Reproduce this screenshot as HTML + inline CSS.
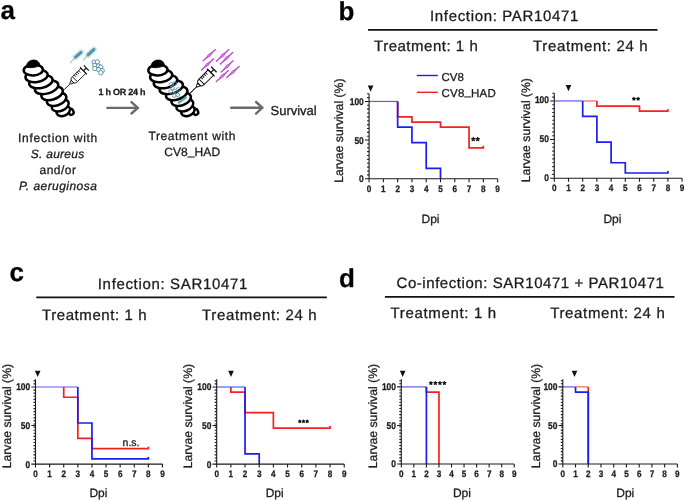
<!DOCTYPE html>
<html><head><meta charset="utf-8"><style>
html,body{margin:0;padding:0;background:#fff;}
svg{display:block;font-family:"Liberation Sans", sans-serif;text-rendering:geometricPrecision;will-change:transform;}
text{stroke:#1a1a1a;stroke-width:0.28px;}
</style></head><body>
<svg width="685" height="501" viewBox="0 0 685 501">
<rect width="685" height="501" fill="#fff"/>
<text x="0.5" y="19.3" font-size="26" font-weight="bold">a</text>
<text x="338.5" y="19.6" font-size="26" font-weight="bold">b</text>
<text x="9.5" y="280.6" font-size="26" font-weight="bold">c</text>
<text x="339" y="287" font-size="26" font-weight="bold">d</text>
<text x="430" y="20.9" font-size="15" fill="#1a1a1a" letter-spacing="0.66">Infection: PAR10471</text>
<path d="M368,29.8H657.5M36.3,297.3H326.9M384.9,296.8H674.5" stroke="#111" stroke-width="1.8"/>
<text x="374" y="51.4" font-size="15" fill="#1a1a1a" letter-spacing="0.52">Treatment: 1 h</text>
<text x="533" y="51.4" font-size="15" fill="#1a1a1a" letter-spacing="0.66">Treatment: 24 h</text>
<text x="97.8" y="288.9" font-size="15" fill="#1a1a1a" letter-spacing="0.66">Infection: SAR10471</text>
<text x="42" y="319.9" font-size="15" fill="#1a1a1a" letter-spacing="0.58">Treatment: 1 h</text>
<text x="202" y="319.9" font-size="15" fill="#1a1a1a" letter-spacing="0.66">Treatment: 24 h</text>
<text x="396.5" y="287.6" font-size="15" fill="#1a1a1a" letter-spacing="0.56">Co-infection: SAR10471 + PAR10471</text>
<text x="390.5" y="317.8" font-size="15" fill="#1a1a1a" letter-spacing="0.66">Treatment: 1 h</text>
<text x="550.2" y="317.8" font-size="15" fill="#1a1a1a" letter-spacing="0.66">Treatment: 24 h</text>
<text x="342.9" y="130.7" transform="rotate(-90 342.9 130.7)" text-anchor="middle" font-size="12.2" fill="#222">Larvae survival (%)</text>
<path d="M369.1,101.45H397.66" fill="none" stroke="#5a5af5" stroke-width="1.2"/>
<path d="M397.66,101.45H397.66V116.9H411.94V122.08H440.5V127.17H469.06V147.8H483.34V147.8v-2" fill="none" stroke="#f52020" stroke-width="1.7"/>
<path d="M397.66,101.45H397.66V127.17H411.94V142.62H426.22V168.43H440.5V178.7" fill="none" stroke="#1c1cf5" stroke-width="1.7"/>
<path d="M369.1,93.72V178.7H497.62M369.1,178.7v3.5M383.38,178.7v3.5M397.66,178.7v3.5M411.94,178.7v3.5M426.22,178.7v3.5M440.5,178.7v3.5M454.78,178.7v3.5M469.06,178.7v3.5M483.34,178.7v3.5M497.62,178.7v3.5M369.1,178.7h-4.2M369.1,140.07h-4.2M369.1,101.45h-4.2M369.1,174.84h-2M369.1,170.97h-2M369.1,167.11h-2M369.1,163.25h-2M369.1,159.39h-2M369.1,155.52h-2M369.1,151.66h-2M369.1,147.8h-2M369.1,143.94h-2M369.1,136.21h-2M369.1,132.35h-2M369.1,128.49h-2M369.1,124.62h-2M369.1,120.76h-2M369.1,116.9h-2M369.1,113.04h-2M369.1,109.17h-2M369.1,105.31h-2M369.1,97.59h-2M369.1,93.72h-2" fill="none" stroke="#1a1a1a" stroke-width="1.1"/>
<text transform="translate(369.1,192) scale(0.87,1)" text-anchor="middle" font-size="9.4" font-weight="bold" fill="#222" stroke="#222" stroke-width="0.3">0</text>
<text transform="translate(383.38,192) scale(0.87,1)" text-anchor="middle" font-size="9.4" font-weight="bold" fill="#222" stroke="#222" stroke-width="0.3">1</text>
<text transform="translate(397.66,192) scale(0.87,1)" text-anchor="middle" font-size="9.4" font-weight="bold" fill="#222" stroke="#222" stroke-width="0.3">2</text>
<text transform="translate(411.94,192) scale(0.87,1)" text-anchor="middle" font-size="9.4" font-weight="bold" fill="#222" stroke="#222" stroke-width="0.3">3</text>
<text transform="translate(426.22,192) scale(0.87,1)" text-anchor="middle" font-size="9.4" font-weight="bold" fill="#222" stroke="#222" stroke-width="0.3">4</text>
<text transform="translate(440.5,192) scale(0.87,1)" text-anchor="middle" font-size="9.4" font-weight="bold" fill="#222" stroke="#222" stroke-width="0.3">5</text>
<text transform="translate(454.78,192) scale(0.87,1)" text-anchor="middle" font-size="9.4" font-weight="bold" fill="#222" stroke="#222" stroke-width="0.3">6</text>
<text transform="translate(469.06,192) scale(0.87,1)" text-anchor="middle" font-size="9.4" font-weight="bold" fill="#222" stroke="#222" stroke-width="0.3">7</text>
<text transform="translate(483.34,192) scale(0.87,1)" text-anchor="middle" font-size="9.4" font-weight="bold" fill="#222" stroke="#222" stroke-width="0.3">8</text>
<text transform="translate(497.62,192) scale(0.87,1)" text-anchor="middle" font-size="9.4" font-weight="bold" fill="#222" stroke="#222" stroke-width="0.3">9</text>
<text transform="translate(363.8,182.15) scale(0.86,1)" text-anchor="end" font-size="9.8" font-weight="bold" fill="#222" stroke="#222" stroke-width="0.3">0</text>
<text transform="translate(363.8,143.52) scale(0.86,1)" text-anchor="end" font-size="9.8" font-weight="bold" fill="#222" stroke="#222" stroke-width="0.3">50</text>
<text transform="translate(363.8,104.9) scale(0.86,1)" text-anchor="end" font-size="9.8" font-weight="bold" fill="#222" stroke="#222" stroke-width="0.3">100</text>
<path d="M367.8,85.4h5.6l-2.8,6.3z" fill="#111"/>
<text x="430.5" y="222.7" text-anchor="middle" font-size="12" fill="#222">Dpi</text>
<path d="M473.3,139.2L473.3,137.45M473.3,139.2L474.96,138.66M473.3,139.2L474.33,140.62M473.3,139.2L472.27,140.62M473.3,139.2L471.64,138.66M477.7,139.2L477.7,137.45M477.7,139.2L479.36,138.66M477.7,139.2L478.73,140.62M477.7,139.2L476.67,140.62M477.7,139.2L476.04,138.66" stroke="#111" stroke-width="1.25" stroke-linecap="round" fill="none"/>
<text x="529.7" y="130.2" transform="rotate(-90 529.7 130.2)" text-anchor="middle" font-size="12.2" fill="#222">Larvae survival (%)</text>
<path d="M582.7,100.95H596.9" fill="none" stroke="#f56060" stroke-width="1.2"/>
<path d="M554.3,100.95H582.7" fill="none" stroke="#5a5af5" stroke-width="1.2"/>
<path d="M596.9,100.95H596.9V106.13H639.5V111.22H667.9V111.22v-2" fill="none" stroke="#f52020" stroke-width="1.7"/>
<path d="M582.7,100.95H582.7V116.4H596.9V142.12H611.1V162.75H625.3V173.02H667.9V173.02v-2" fill="none" stroke="#1c1cf5" stroke-width="1.7"/>
<path d="M554.3,93.22V178.2H682.1M554.3,178.2v3.5M568.5,178.2v3.5M582.7,178.2v3.5M596.9,178.2v3.5M611.1,178.2v3.5M625.3,178.2v3.5M639.5,178.2v3.5M653.7,178.2v3.5M667.9,178.2v3.5M682.1,178.2v3.5M554.3,178.2h-4.2M554.3,139.57h-4.2M554.3,100.95h-4.2M554.3,174.34h-2M554.3,170.47h-2M554.3,166.61h-2M554.3,162.75h-2M554.3,158.89h-2M554.3,155.02h-2M554.3,151.16h-2M554.3,147.3h-2M554.3,143.44h-2M554.3,135.71h-2M554.3,131.85h-2M554.3,127.99h-2M554.3,124.12h-2M554.3,120.26h-2M554.3,116.4h-2M554.3,112.54h-2M554.3,108.67h-2M554.3,104.81h-2M554.3,97.09h-2M554.3,93.22h-2" fill="none" stroke="#1a1a1a" stroke-width="1.1"/>
<text transform="translate(554.3,190.5) scale(0.87,1)" text-anchor="middle" font-size="9.4" font-weight="bold" fill="#222" stroke="#222" stroke-width="0.3">0</text>
<text transform="translate(568.5,190.5) scale(0.87,1)" text-anchor="middle" font-size="9.4" font-weight="bold" fill="#222" stroke="#222" stroke-width="0.3">1</text>
<text transform="translate(582.7,190.5) scale(0.87,1)" text-anchor="middle" font-size="9.4" font-weight="bold" fill="#222" stroke="#222" stroke-width="0.3">2</text>
<text transform="translate(596.9,190.5) scale(0.87,1)" text-anchor="middle" font-size="9.4" font-weight="bold" fill="#222" stroke="#222" stroke-width="0.3">3</text>
<text transform="translate(611.1,190.5) scale(0.87,1)" text-anchor="middle" font-size="9.4" font-weight="bold" fill="#222" stroke="#222" stroke-width="0.3">4</text>
<text transform="translate(625.3,190.5) scale(0.87,1)" text-anchor="middle" font-size="9.4" font-weight="bold" fill="#222" stroke="#222" stroke-width="0.3">5</text>
<text transform="translate(639.5,190.5) scale(0.87,1)" text-anchor="middle" font-size="9.4" font-weight="bold" fill="#222" stroke="#222" stroke-width="0.3">6</text>
<text transform="translate(653.7,190.5) scale(0.87,1)" text-anchor="middle" font-size="9.4" font-weight="bold" fill="#222" stroke="#222" stroke-width="0.3">7</text>
<text transform="translate(667.9,190.5) scale(0.87,1)" text-anchor="middle" font-size="9.4" font-weight="bold" fill="#222" stroke="#222" stroke-width="0.3">8</text>
<text transform="translate(682.1,190.5) scale(0.87,1)" text-anchor="middle" font-size="9.4" font-weight="bold" fill="#222" stroke="#222" stroke-width="0.3">9</text>
<text transform="translate(549,180.65) scale(0.86,1)" text-anchor="end" font-size="9.8" font-weight="bold" fill="#222" stroke="#222" stroke-width="0.3">0</text>
<text transform="translate(549,142.02) scale(0.86,1)" text-anchor="end" font-size="9.8" font-weight="bold" fill="#222" stroke="#222" stroke-width="0.3">50</text>
<text transform="translate(549,103.4) scale(0.86,1)" text-anchor="end" font-size="9.8" font-weight="bold" fill="#222" stroke="#222" stroke-width="0.3">100</text>
<path d="M565.66,84.9h5.6l-2.8,6.3z" fill="#111"/>
<text x="612.4" y="222.7" text-anchor="middle" font-size="12" fill="#222">Dpi</text>
<path d="M633.9,98.8L633.9,97.35M633.9,98.8L635.28,98.35M633.9,98.8L634.75,99.97M633.9,98.8L633.05,99.97M633.9,98.8L632.52,98.35M638.1,98.8L638.1,97.35M638.1,98.8L639.48,98.35M638.1,98.8L638.95,99.97M638.1,98.8L637.25,99.97M638.1,98.8L636.72,98.35" stroke="#111" stroke-width="1.25" stroke-linecap="round" fill="none"/>
<text x="10.9" y="416.1" transform="rotate(-90 10.9 416.1)" text-anchor="middle" font-size="12.2" fill="#222">Larvae survival (%)</text>
<path d="M35.5,387H77.83" fill="none" stroke="#5a5af5" stroke-width="1.2"/>
<path d="M63.72,387H63.72V397.25H77.83V438.43H91.94V448.68H148.38V448.68v-2" fill="none" stroke="#f52020" stroke-width="1.7"/>
<path d="M77.83,387H77.83V423.01H91.94V458.93H148.38V458.93v-2" fill="none" stroke="#1c1cf5" stroke-width="1.7"/>
<path d="M35.5,379.29V464.1H162.49M35.5,464.1v3.5M49.61,464.1v3.5M63.72,464.1v3.5M77.83,464.1v3.5M91.94,464.1v3.5M106.05,464.1v3.5M120.16,464.1v3.5M134.27,464.1v3.5M148.38,464.1v3.5M162.49,464.1v3.5M35.5,464.1h-4.2M35.5,425.55h-4.2M35.5,387h-4.2M35.5,461.02h-2M35.5,457.93h-2M35.5,454.85h-2M35.5,451.76h-2M35.5,448.68h-2M35.5,445.6h-2M35.5,442.51h-2M35.5,439.43h-2M35.5,436.34h-2M35.5,433.26h-2M35.5,430.18h-2M35.5,427.09h-2M35.5,424.01h-2M35.5,420.92h-2M35.5,417.84h-2M35.5,414.76h-2M35.5,411.67h-2M35.5,408.59h-2M35.5,405.5h-2M35.5,402.42h-2M35.5,399.34h-2M35.5,396.25h-2M35.5,393.17h-2M35.5,390.08h-2M35.5,383.92h-2M35.5,380.83h-2" fill="none" stroke="#1a1a1a" stroke-width="1.1"/>
<text transform="translate(35.5,477.4) scale(0.87,1)" text-anchor="middle" font-size="9.4" font-weight="bold" fill="#222" stroke="#222" stroke-width="0.3">0</text>
<text transform="translate(49.61,477.4) scale(0.87,1)" text-anchor="middle" font-size="9.4" font-weight="bold" fill="#222" stroke="#222" stroke-width="0.3">1</text>
<text transform="translate(63.72,477.4) scale(0.87,1)" text-anchor="middle" font-size="9.4" font-weight="bold" fill="#222" stroke="#222" stroke-width="0.3">2</text>
<text transform="translate(77.83,477.4) scale(0.87,1)" text-anchor="middle" font-size="9.4" font-weight="bold" fill="#222" stroke="#222" stroke-width="0.3">3</text>
<text transform="translate(91.94,477.4) scale(0.87,1)" text-anchor="middle" font-size="9.4" font-weight="bold" fill="#222" stroke="#222" stroke-width="0.3">4</text>
<text transform="translate(106.05,477.4) scale(0.87,1)" text-anchor="middle" font-size="9.4" font-weight="bold" fill="#222" stroke="#222" stroke-width="0.3">5</text>
<text transform="translate(120.16,477.4) scale(0.87,1)" text-anchor="middle" font-size="9.4" font-weight="bold" fill="#222" stroke="#222" stroke-width="0.3">6</text>
<text transform="translate(134.27,477.4) scale(0.87,1)" text-anchor="middle" font-size="9.4" font-weight="bold" fill="#222" stroke="#222" stroke-width="0.3">7</text>
<text transform="translate(148.38,477.4) scale(0.87,1)" text-anchor="middle" font-size="9.4" font-weight="bold" fill="#222" stroke="#222" stroke-width="0.3">8</text>
<text transform="translate(162.49,477.4) scale(0.87,1)" text-anchor="middle" font-size="9.4" font-weight="bold" fill="#222" stroke="#222" stroke-width="0.3">9</text>
<text transform="translate(30.2,467.55) scale(0.86,1)" text-anchor="end" font-size="9.8" font-weight="bold" fill="#222" stroke="#222" stroke-width="0.3">0</text>
<text transform="translate(30.2,429) scale(0.86,1)" text-anchor="end" font-size="9.8" font-weight="bold" fill="#222" stroke="#222" stroke-width="0.3">50</text>
<text transform="translate(30.2,390.45) scale(0.86,1)" text-anchor="end" font-size="9.8" font-weight="bold" fill="#222" stroke="#222" stroke-width="0.3">100</text>
<path d="M34.9,370.8h5.6l-2.8,6.3z" fill="#111"/>
<text x="98.4" y="497.2" text-anchor="middle" font-size="12" fill="#222">Dpi</text>
<text x="122.6" y="445.6" font-size="10.5" fill="#1a1a1a" stroke="#1a1a1a" stroke-width="0.3">n.s.</text>
<text x="192.1" y="416.1" transform="rotate(-90 192.1 416.1)" text-anchor="middle" font-size="12.2" fill="#222">Larvae survival (%)</text>
<path d="M216.7,387H245.04" fill="none" stroke="#5a5af5" stroke-width="1.2"/>
<path d="M230.87,387H230.87V392.17H245.04V412.67H273.38V428.09H330.06V428.09v-2" fill="none" stroke="#f52020" stroke-width="1.7"/>
<path d="M245.04,387H245.04V453.85H259.21V464.1" fill="none" stroke="#1c1cf5" stroke-width="1.7"/>
<path d="M216.7,379.29V464.1H344.23M216.7,464.1v3.5M230.87,464.1v3.5M245.04,464.1v3.5M259.21,464.1v3.5M273.38,464.1v3.5M287.55,464.1v3.5M301.72,464.1v3.5M315.89,464.1v3.5M330.06,464.1v3.5M344.23,464.1v3.5M216.7,464.1h-4.2M216.7,425.55h-4.2M216.7,387h-4.2M216.7,461.02h-2M216.7,457.93h-2M216.7,454.85h-2M216.7,451.76h-2M216.7,448.68h-2M216.7,445.6h-2M216.7,442.51h-2M216.7,439.43h-2M216.7,436.34h-2M216.7,433.26h-2M216.7,430.18h-2M216.7,427.09h-2M216.7,424.01h-2M216.7,420.92h-2M216.7,417.84h-2M216.7,414.76h-2M216.7,411.67h-2M216.7,408.59h-2M216.7,405.5h-2M216.7,402.42h-2M216.7,399.34h-2M216.7,396.25h-2M216.7,393.17h-2M216.7,390.08h-2M216.7,383.92h-2M216.7,380.83h-2" fill="none" stroke="#1a1a1a" stroke-width="1.1"/>
<text transform="translate(216.7,477.4) scale(0.87,1)" text-anchor="middle" font-size="9.4" font-weight="bold" fill="#222" stroke="#222" stroke-width="0.3">0</text>
<text transform="translate(230.87,477.4) scale(0.87,1)" text-anchor="middle" font-size="9.4" font-weight="bold" fill="#222" stroke="#222" stroke-width="0.3">1</text>
<text transform="translate(245.04,477.4) scale(0.87,1)" text-anchor="middle" font-size="9.4" font-weight="bold" fill="#222" stroke="#222" stroke-width="0.3">2</text>
<text transform="translate(259.21,477.4) scale(0.87,1)" text-anchor="middle" font-size="9.4" font-weight="bold" fill="#222" stroke="#222" stroke-width="0.3">3</text>
<text transform="translate(273.38,477.4) scale(0.87,1)" text-anchor="middle" font-size="9.4" font-weight="bold" fill="#222" stroke="#222" stroke-width="0.3">4</text>
<text transform="translate(287.55,477.4) scale(0.87,1)" text-anchor="middle" font-size="9.4" font-weight="bold" fill="#222" stroke="#222" stroke-width="0.3">5</text>
<text transform="translate(301.72,477.4) scale(0.87,1)" text-anchor="middle" font-size="9.4" font-weight="bold" fill="#222" stroke="#222" stroke-width="0.3">6</text>
<text transform="translate(315.89,477.4) scale(0.87,1)" text-anchor="middle" font-size="9.4" font-weight="bold" fill="#222" stroke="#222" stroke-width="0.3">7</text>
<text transform="translate(330.06,477.4) scale(0.87,1)" text-anchor="middle" font-size="9.4" font-weight="bold" fill="#222" stroke="#222" stroke-width="0.3">8</text>
<text transform="translate(344.23,477.4) scale(0.87,1)" text-anchor="middle" font-size="9.4" font-weight="bold" fill="#222" stroke="#222" stroke-width="0.3">9</text>
<text transform="translate(211.4,467.55) scale(0.86,1)" text-anchor="end" font-size="9.8" font-weight="bold" fill="#222" stroke="#222" stroke-width="0.3">0</text>
<text transform="translate(211.4,429) scale(0.86,1)" text-anchor="end" font-size="9.8" font-weight="bold" fill="#222" stroke="#222" stroke-width="0.3">50</text>
<text transform="translate(211.4,390.45) scale(0.86,1)" text-anchor="end" font-size="9.8" font-weight="bold" fill="#222" stroke="#222" stroke-width="0.3">100</text>
<path d="M228.21,370.8h5.6l-2.8,6.3z" fill="#111"/>
<text x="274.7" y="497.2" text-anchor="middle" font-size="12" fill="#222">Dpi</text>
<path d="M299.8,421.4L299.8,420.15M299.8,421.4L300.99,421.01M299.8,421.4L300.53,422.41M299.8,421.4L299.07,422.41M299.8,421.4L298.61,421.01M303.5,421.4L303.5,420.15M303.5,421.4L304.69,421.01M303.5,421.4L304.23,422.41M303.5,421.4L302.77,422.41M303.5,421.4L302.31,421.01M307.2,421.4L307.2,420.15M307.2,421.4L308.39,421.01M307.2,421.4L307.93,422.41M307.2,421.4L306.47,422.41M307.2,421.4L306.01,421.01" stroke="#111" stroke-width="1.25" stroke-linecap="round" fill="none"/>
<text x="377.4" y="416" transform="rotate(-90 377.4 416)" text-anchor="middle" font-size="12.2" fill="#222">Larvae survival (%)</text>
<path d="M401.3,386.9H426.4" fill="none" stroke="#5a5af5" stroke-width="1.2"/>
<path d="M426.4,386.9H426.4V392.07H438.95V464" fill="none" stroke="#f52020" stroke-width="1.7"/>
<path d="M426.4,386.9H426.4V464" fill="none" stroke="#1c1cf5" stroke-width="1.7"/>
<path d="M401.3,379.19V464H514.25M401.3,464v3.5M413.85,464v3.5M426.4,464v3.5M438.95,464v3.5M451.5,464v3.5M464.05,464v3.5M476.6,464v3.5M489.15,464v3.5M501.7,464v3.5M514.25,464v3.5M401.3,464h-4.2M401.3,425.45h-4.2M401.3,386.9h-4.2M401.3,460.92h-2M401.3,457.83h-2M401.3,454.75h-2M401.3,451.66h-2M401.3,448.58h-2M401.3,445.5h-2M401.3,442.41h-2M401.3,439.33h-2M401.3,436.24h-2M401.3,433.16h-2M401.3,430.08h-2M401.3,426.99h-2M401.3,423.91h-2M401.3,420.82h-2M401.3,417.74h-2M401.3,414.66h-2M401.3,411.57h-2M401.3,408.49h-2M401.3,405.4h-2M401.3,402.32h-2M401.3,399.24h-2M401.3,396.15h-2M401.3,393.07h-2M401.3,389.98h-2M401.3,383.82h-2M401.3,380.73h-2" fill="none" stroke="#1a1a1a" stroke-width="1.1"/>
<text transform="translate(401.3,477.3) scale(0.87,1)" text-anchor="middle" font-size="9.4" font-weight="bold" fill="#222" stroke="#222" stroke-width="0.3">0</text>
<text transform="translate(413.85,477.3) scale(0.87,1)" text-anchor="middle" font-size="9.4" font-weight="bold" fill="#222" stroke="#222" stroke-width="0.3">1</text>
<text transform="translate(426.4,477.3) scale(0.87,1)" text-anchor="middle" font-size="9.4" font-weight="bold" fill="#222" stroke="#222" stroke-width="0.3">2</text>
<text transform="translate(438.95,477.3) scale(0.87,1)" text-anchor="middle" font-size="9.4" font-weight="bold" fill="#222" stroke="#222" stroke-width="0.3">3</text>
<text transform="translate(451.5,477.3) scale(0.87,1)" text-anchor="middle" font-size="9.4" font-weight="bold" fill="#222" stroke="#222" stroke-width="0.3">4</text>
<text transform="translate(464.05,477.3) scale(0.87,1)" text-anchor="middle" font-size="9.4" font-weight="bold" fill="#222" stroke="#222" stroke-width="0.3">5</text>
<text transform="translate(476.6,477.3) scale(0.87,1)" text-anchor="middle" font-size="9.4" font-weight="bold" fill="#222" stroke="#222" stroke-width="0.3">6</text>
<text transform="translate(489.15,477.3) scale(0.87,1)" text-anchor="middle" font-size="9.4" font-weight="bold" fill="#222" stroke="#222" stroke-width="0.3">7</text>
<text transform="translate(501.7,477.3) scale(0.87,1)" text-anchor="middle" font-size="9.4" font-weight="bold" fill="#222" stroke="#222" stroke-width="0.3">8</text>
<text transform="translate(514.25,477.3) scale(0.87,1)" text-anchor="middle" font-size="9.4" font-weight="bold" fill="#222" stroke="#222" stroke-width="0.3">9</text>
<text transform="translate(396,467.45) scale(0.86,1)" text-anchor="end" font-size="9.8" font-weight="bold" fill="#222" stroke="#222" stroke-width="0.3">0</text>
<text transform="translate(396,428.9) scale(0.86,1)" text-anchor="end" font-size="9.8" font-weight="bold" fill="#222" stroke="#222" stroke-width="0.3">50</text>
<text transform="translate(396,390.35) scale(0.86,1)" text-anchor="end" font-size="9.8" font-weight="bold" fill="#222" stroke="#222" stroke-width="0.3">100</text>
<path d="M399.88,370.7h5.6l-2.8,6.3z" fill="#111"/>
<text x="461.9" y="497.2" text-anchor="middle" font-size="12" fill="#222">Dpi</text>
<path d="M430.9,383.1L430.9,381.6M430.9,383.1L432.33,382.64M430.9,383.1L431.78,384.31M430.9,383.1L430.02,384.31M430.9,383.1L429.47,382.64M435.4,383.1L435.4,381.6M435.4,383.1L436.83,382.64M435.4,383.1L436.28,384.31M435.4,383.1L434.52,384.31M435.4,383.1L433.97,382.64M439.9,383.1L439.9,381.6M439.9,383.1L441.33,382.64M439.9,383.1L440.78,384.31M439.9,383.1L439.02,384.31M439.9,383.1L438.47,382.64M444.4,383.1L444.4,381.6M444.4,383.1L445.83,382.64M444.4,383.1L445.28,384.31M444.4,383.1L443.52,384.31M444.4,383.1L442.97,382.64" stroke="#111" stroke-width="1.25" stroke-linecap="round" fill="none"/>
<text x="540" y="416" transform="rotate(-90 540 416)" text-anchor="middle" font-size="12.2" fill="#222">Larvae survival (%)</text>
<path d="M575.53,386.9H588.26" fill="none" stroke="#f56060" stroke-width="1.2"/>
<path d="M562.8,386.9H575.53" fill="none" stroke="#5a5af5" stroke-width="1.2"/>
<path d="M588.26,386.9H588.26V464" fill="none" stroke="#f52020" stroke-width="1.7"/>
<path d="M575.53,386.9H575.53V392.07H588.26V464" fill="none" stroke="#1c1cf5" stroke-width="1.7"/>
<path d="M562.8,379.19V464H677.37M562.8,464v3.5M575.53,464v3.5M588.26,464v3.5M600.99,464v3.5M613.72,464v3.5M626.45,464v3.5M639.18,464v3.5M651.91,464v3.5M664.64,464v3.5M677.37,464v3.5M562.8,464h-4.2M562.8,425.45h-4.2M562.8,386.9h-4.2M562.8,460.92h-2M562.8,457.83h-2M562.8,454.75h-2M562.8,451.66h-2M562.8,448.58h-2M562.8,445.5h-2M562.8,442.41h-2M562.8,439.33h-2M562.8,436.24h-2M562.8,433.16h-2M562.8,430.08h-2M562.8,426.99h-2M562.8,423.91h-2M562.8,420.82h-2M562.8,417.74h-2M562.8,414.66h-2M562.8,411.57h-2M562.8,408.49h-2M562.8,405.4h-2M562.8,402.32h-2M562.8,399.24h-2M562.8,396.15h-2M562.8,393.07h-2M562.8,389.98h-2M562.8,383.82h-2M562.8,380.73h-2" fill="none" stroke="#1a1a1a" stroke-width="1.1"/>
<text transform="translate(562.8,477.3) scale(0.87,1)" text-anchor="middle" font-size="9.4" font-weight="bold" fill="#222" stroke="#222" stroke-width="0.3">0</text>
<text transform="translate(575.53,477.3) scale(0.87,1)" text-anchor="middle" font-size="9.4" font-weight="bold" fill="#222" stroke="#222" stroke-width="0.3">1</text>
<text transform="translate(588.26,477.3) scale(0.87,1)" text-anchor="middle" font-size="9.4" font-weight="bold" fill="#222" stroke="#222" stroke-width="0.3">2</text>
<text transform="translate(600.99,477.3) scale(0.87,1)" text-anchor="middle" font-size="9.4" font-weight="bold" fill="#222" stroke="#222" stroke-width="0.3">3</text>
<text transform="translate(613.72,477.3) scale(0.87,1)" text-anchor="middle" font-size="9.4" font-weight="bold" fill="#222" stroke="#222" stroke-width="0.3">4</text>
<text transform="translate(626.45,477.3) scale(0.87,1)" text-anchor="middle" font-size="9.4" font-weight="bold" fill="#222" stroke="#222" stroke-width="0.3">5</text>
<text transform="translate(639.18,477.3) scale(0.87,1)" text-anchor="middle" font-size="9.4" font-weight="bold" fill="#222" stroke="#222" stroke-width="0.3">6</text>
<text transform="translate(651.91,477.3) scale(0.87,1)" text-anchor="middle" font-size="9.4" font-weight="bold" fill="#222" stroke="#222" stroke-width="0.3">7</text>
<text transform="translate(664.64,477.3) scale(0.87,1)" text-anchor="middle" font-size="9.4" font-weight="bold" fill="#222" stroke="#222" stroke-width="0.3">8</text>
<text transform="translate(677.37,477.3) scale(0.87,1)" text-anchor="middle" font-size="9.4" font-weight="bold" fill="#222" stroke="#222" stroke-width="0.3">9</text>
<text transform="translate(557.5,467.45) scale(0.86,1)" text-anchor="end" font-size="9.8" font-weight="bold" fill="#222" stroke="#222" stroke-width="0.3">0</text>
<text transform="translate(557.5,428.9) scale(0.86,1)" text-anchor="end" font-size="9.8" font-weight="bold" fill="#222" stroke="#222" stroke-width="0.3">50</text>
<text transform="translate(557.5,390.35) scale(0.86,1)" text-anchor="end" font-size="9.8" font-weight="bold" fill="#222" stroke="#222" stroke-width="0.3">100</text>
<path d="M571.71,370.7h5.6l-2.8,6.3z" fill="#111"/>
<text x="625.3" y="497.2" text-anchor="middle" font-size="12" fill="#222">Dpi</text>
<path d="M416.8,75.5H437.9" stroke="#1c1cf5" stroke-width="1.4"/>
<path d="M416.8,92.3H437.9" stroke="#f52020" stroke-width="1.4"/>
<text x="441.5" y="80.5" font-size="11.5" fill="#222">CV8</text>
<text x="441.5" y="96.9" font-size="11.5" fill="#222" letter-spacing="0.2">CV8<tspan dy="-1.6">_</tspan><tspan dy="1.6">HAD</tspan></text>
<text x="58" y="141.6" font-size="12" fill="#1a1a1a" text-anchor="middle" letter-spacing="0.7">Infection with</text>
<text x="57.6" y="157.9" font-size="12" fill="#1a1a1a" text-anchor="middle" font-style="italic" letter-spacing="0.25">S. aureus</text>
<text x="58" y="173.5" font-size="12" fill="#1a1a1a" text-anchor="middle" letter-spacing="0.5">and/or</text>
<text x="58.1" y="189.9" font-size="12" fill="#1a1a1a" text-anchor="middle" font-style="italic" letter-spacing="0.45">P. aeruginosa</text>
<text x="192.2" y="140" font-size="12" fill="#1a1a1a" text-anchor="middle" letter-spacing="0.62">Treatment with</text>
<text x="192.2" y="156.2" font-size="12" fill="#1a1a1a" text-anchor="middle" letter-spacing="0.1">CV8<tspan dy="-1.6">_</tspan><tspan dy="1.6">HAD</tspan></text>
<text x="270.5" y="114.9" font-size="13" fill="#1a1a1a">Survival</text>
<text x="121.9" y="95.1" font-size="9" font-weight="bold" fill="#222" text-anchor="middle" letter-spacing="-0.25">1 h OR 24 h</text>
<path d="M107.4,107.9H138M131.5,102.1L137.8,107.9L131.5,113.5M231.2,107.7H262.5M256.1,102L262.3,107.7L256.1,113.6" fill="none" stroke="#6b6b6b" stroke-width="2.4" stroke-linecap="round" stroke-linejoin="round"/>
<g transform="translate(0,0)"><ellipse cx="70.9" cy="111.9" rx="2.6" ry="3.0" transform="rotate(-30 70.9 111.9)" fill="#fff" stroke="#000" stroke-width="2.4"/><ellipse cx="63.3" cy="110.9" rx="7.0" ry="4.9" transform="rotate(-24 63.3 110.9)" fill="#fff" stroke="#000" stroke-width="2.5"/><ellipse cx="60.2" cy="105.3" rx="8.9" ry="5.6" transform="rotate(-22 60.2 105.3)" fill="#fff" stroke="#000" stroke-width="2.5"/><ellipse cx="56.6" cy="99.4" rx="10.1" ry="6.0" transform="rotate(-20 56.6 99.4)" fill="#fff" stroke="#000" stroke-width="2.5"/><ellipse cx="52.1" cy="93.4" rx="11.1" ry="6.2" transform="rotate(-18 52.1 93.4)" fill="#fff" stroke="#000" stroke-width="2.5"/><ellipse cx="46.6" cy="87.3" rx="12.0" ry="6.3" transform="rotate(-15 46.6 87.3)" fill="#fff" stroke="#000" stroke-width="2.5"/><ellipse cx="40.9" cy="81.7" rx="11.9" ry="6.3" transform="rotate(-12 40.9 81.7)" fill="#fff" stroke="#000" stroke-width="2.5"/><ellipse cx="36.6" cy="76.0" rx="11.2" ry="6.0" transform="rotate(-9 36.6 76.0)" fill="#fff" stroke="#000" stroke-width="2.5"/><ellipse cx="33.3" cy="70.0" rx="9.6" ry="5.4" transform="rotate(-3 33.3 70.0)" fill="#fff" stroke="#000" stroke-width="2.5"/><path d="M26.6,67.2 C25.6,58.8 39.5,57.2 39.8,65.6 C35.5,67.8 30.5,68.2 26.6,67.2Z" fill="#000" stroke="#000" stroke-width="0.8"/></g>
<g transform="translate(124.6,0)"><ellipse cx="70.9" cy="111.9" rx="2.6" ry="3.0" transform="rotate(-30 70.9 111.9)" fill="#fff" stroke="#000" stroke-width="2.4"/><ellipse cx="63.3" cy="110.9" rx="7.0" ry="4.9" transform="rotate(-24 63.3 110.9)" fill="#fff" stroke="#000" stroke-width="2.5"/><ellipse cx="60.2" cy="105.3" rx="8.9" ry="5.6" transform="rotate(-22 60.2 105.3)" fill="#fff" stroke="#000" stroke-width="2.5"/><ellipse cx="56.6" cy="99.4" rx="10.1" ry="6.0" transform="rotate(-20 56.6 99.4)" fill="#fff" stroke="#000" stroke-width="2.5"/><ellipse cx="52.1" cy="93.4" rx="11.1" ry="6.2" transform="rotate(-18 52.1 93.4)" fill="#fff" stroke="#000" stroke-width="2.5"/><ellipse cx="46.6" cy="87.3" rx="12.0" ry="6.3" transform="rotate(-15 46.6 87.3)" fill="#fff" stroke="#000" stroke-width="2.5"/><ellipse cx="40.9" cy="81.7" rx="11.9" ry="6.3" transform="rotate(-12 40.9 81.7)" fill="#fff" stroke="#000" stroke-width="2.5"/><ellipse cx="36.6" cy="76.0" rx="11.2" ry="6.0" transform="rotate(-9 36.6 76.0)" fill="#fff" stroke="#000" stroke-width="2.5"/><ellipse cx="33.3" cy="70.0" rx="9.6" ry="5.4" transform="rotate(-3 33.3 70.0)" fill="#fff" stroke="#000" stroke-width="2.5"/><g fill="none" stroke="#5b97ac" stroke-width="0.85"><circle cx="46.5" cy="84.5" r="1.9"/><circle cx="50" cy="83.5" r="1.9"/><circle cx="48" cy="88" r="1.9"/><circle cx="46" cy="91.5" r="1.9"/><circle cx="49.8" cy="91" r="1.9"/><circle cx="53.5" cy="89.5" r="1.9"/><circle cx="49.5" cy="95.5" r="1.9"/><circle cx="53.2" cy="95" r="1.9"/></g><path d="M54.2,102.6L61.2,97.6" stroke="#6aa3b6" stroke-width="2.4" stroke-linecap="round"/><path d="M26.6,67.2 C25.6,58.8 39.5,57.2 39.8,65.6 C35.5,67.8 30.5,68.2 26.6,67.2Z" fill="#000" stroke="#000" stroke-width="0.8"/></g>
<g transform="translate(64.2,89.7) rotate(-44.5) scale(1.0)" fill="none" stroke="#111" stroke-width="0.9" stroke-linejoin="round"><path d="M0,0H8.6"/><path d="M8.6,-0.6L11.6,-1.8V1.8L8.6,0.6Z"/><path d="M11.6,-1.9C12.4,-3.5 14,-3.5 15,-3.5H27V3.5H15C14,3.5 12.4,3.5 11.6,1.9Z"/><path d="M15,-3.5V3.5"/><path d="M17.5,-3.5V-1M19.5,-3.5V-1M21.5,-3.5V-1M23.5,-3.5V-1"/><path d="M27,-5V5M27,0H31M31,-3.6V3.6" stroke-width="1.15"/></g>
<g transform="translate(190.2,93.2) rotate(-45) scale(1.08)" fill="none" stroke="#111" stroke-width="0.9" stroke-linejoin="round"><path d="M0,0H8.6"/><path d="M8.6,-0.6L11.6,-1.8V1.8L8.6,0.6Z"/><path d="M11.6,-1.9C12.4,-3.5 14,-3.5 15,-3.5H27V3.5H15C14,3.5 12.4,3.5 11.6,1.9Z"/><path d="M15,-3.5V3.5"/><path d="M17.5,-3.5V-1M19.5,-3.5V-1M21.5,-3.5V-1M23.5,-3.5V-1"/><path d="M27,-5V5M27,0H31M31,-3.6V3.6" stroke-width="1.15"/></g>
<path d="M75.6,57.2L81,52.3" stroke="#dcebf0" stroke-width="6.5" stroke-linecap="round"/><path d="M75.6,57.2L70.4,62.6" stroke="#9cc4d1" stroke-width="1.1" stroke-linecap="round"/><path d="M75.6,57.2L81,52.3" stroke="#5593a8" stroke-width="3.1" stroke-linecap="round"/>
<path d="M88.1,54.8L93.9,49.5" stroke="#dcebf0" stroke-width="6.5" stroke-linecap="round"/><path d="M88.1,54.8L83.4,59.8" stroke="#9cc4d1" stroke-width="1.1" stroke-linecap="round"/><path d="M88.1,54.8L93.9,49.5" stroke="#5593a8" stroke-width="3.1" stroke-linecap="round"/>
<circle cx="94.2" cy="62.2" r="2.2" fill="#fff" stroke="#4a8aa0" stroke-width="0.9"/>
<circle cx="97.3" cy="61.9" r="2.2" fill="#fff" stroke="#4a8aa0" stroke-width="0.9"/>
<circle cx="94.9" cy="65.4" r="2.2" fill="#fff" stroke="#4a8aa0" stroke-width="0.9"/>
<circle cx="98.4" cy="66.1" r="2.2" fill="#fff" stroke="#4a8aa0" stroke-width="0.9"/>
<circle cx="94.9" cy="68.5" r="2.2" fill="#fff" stroke="#4a8aa0" stroke-width="0.9"/>
<circle cx="100.8" cy="67.1" r="2.2" fill="#fff" stroke="#4a8aa0" stroke-width="0.9"/>
<circle cx="98.7" cy="69.6" r="2.2" fill="#fff" stroke="#4a8aa0" stroke-width="0.9"/>
<circle cx="102.2" cy="70.6" r="2.2" fill="#fff" stroke="#4a8aa0" stroke-width="0.9"/>
<circle cx="100.8" cy="72.7" r="2.2" fill="#fff" stroke="#4a8aa0" stroke-width="0.9"/>
<g transform="translate(209.35,55.20) rotate(-42.3)"><path d="M-8.32,0H8.32" stroke="#b44cc9" stroke-width="1.35" stroke-linecap="round"/><path d="M-4.2,0Q0,-2.5 4.2,0Q0,2.5 -4.2,0Z" fill="#e47af4" stroke="#a93fbe" stroke-width="0.6"/></g>
<g transform="translate(222.60,55.40) rotate(-43.1)"><path d="M-8.49,0H8.49" stroke="#b44cc9" stroke-width="1.35" stroke-linecap="round"/><path d="M-4.2,0Q0,-2.5 4.2,0Q0,2.5 -4.2,0Z" fill="#e47af4" stroke="#a93fbe" stroke-width="0.6"/></g>
<g transform="translate(226.55,58.20) rotate(-43.3)"><path d="M-8.45,0H8.45" stroke="#b44cc9" stroke-width="1.35" stroke-linecap="round"/><path d="M-4.2,0Q0,-2.5 4.2,0Q0,2.5 -4.2,0Z" fill="#e47af4" stroke="#a93fbe" stroke-width="0.6"/></g>
<g transform="translate(207.60,64.40) rotate(-43.0)"><path d="M-8.21,0H8.21" stroke="#b44cc9" stroke-width="1.35" stroke-linecap="round"/><path d="M-4.2,0Q0,-2.5 4.2,0Q0,2.5 -4.2,0Z" fill="#e47af4" stroke="#a93fbe" stroke-width="0.6"/></g>
<g transform="translate(227.15,66.40) rotate(-43.3)"><path d="M-8.17,0H8.17" stroke="#b44cc9" stroke-width="1.35" stroke-linecap="round"/><path d="M-4.2,0Q0,-2.5 4.2,0Q0,2.5 -4.2,0Z" fill="#e47af4" stroke="#a93fbe" stroke-width="0.6"/></g>
<g transform="translate(222.40,75.95) rotate(-42.8)"><path d="M-8.17,0H8.17" stroke="#b44cc9" stroke-width="1.35" stroke-linecap="round"/><path d="M-4.2,0Q0,-2.5 4.2,0Q0,2.5 -4.2,0Z" fill="#e47af4" stroke="#a93fbe" stroke-width="0.6"/></g>
<g transform="translate(232.95,71.95) rotate(-42.1)"><path d="M-8.28,0H8.28" stroke="#b44cc9" stroke-width="1.35" stroke-linecap="round"/><path d="M-4.2,0Q0,-2.5 4.2,0Q0,2.5 -4.2,0Z" fill="#e47af4" stroke="#a93fbe" stroke-width="0.6"/></g>
</svg>
</body></html>
